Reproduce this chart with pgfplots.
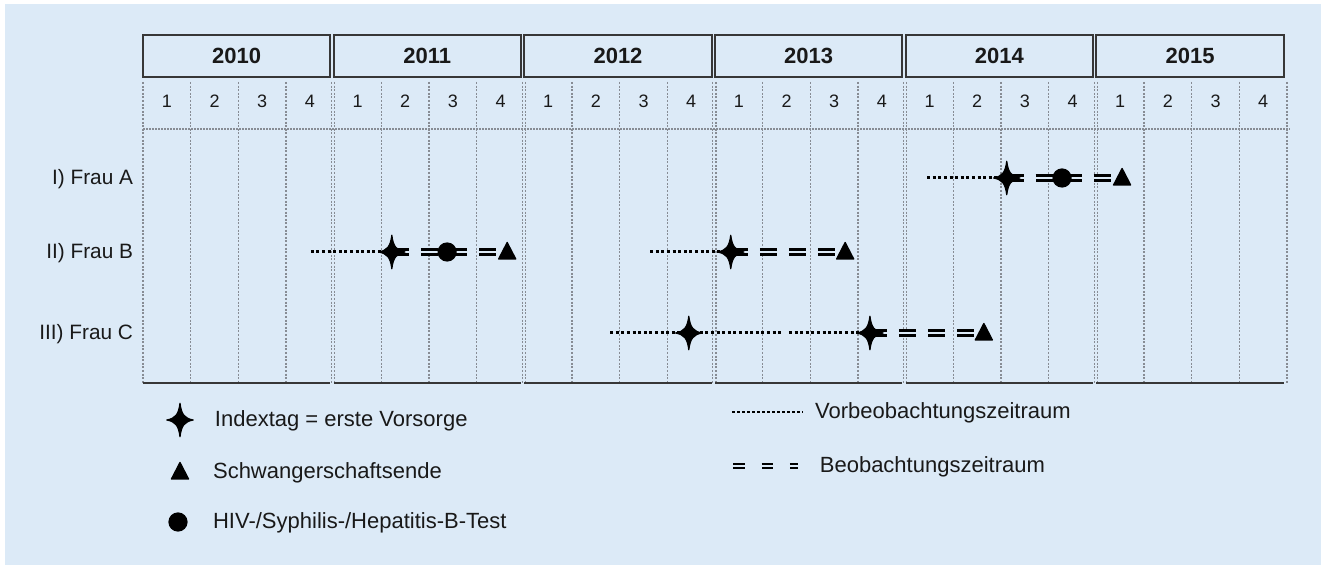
\documentclass[border=0pt]{standalone}
\usepackage{pgfplots}
\pgfplotsset{compat=1.18}
\usepackage{fontspec}
\setmainfont{Liberation Sans}
\definecolor{bg}{RGB}{220,234,247}
\definecolor{gridc}{RGB}{135,140,148}
\definecolor{boxc}{RGB}{55,55,55}
\definecolor{txtc}{RGB}{25,25,25}
\tikzset{lbl/.style={text=txtc, inner sep=0pt, outer sep=0pt}}
\pgfdeclareplotmark{star4}{%
 \pgfpathmoveto{\pgfpoint{0pt}{8.4pt}}%
 \pgfpathcurveto{\pgfpoint{0.7pt}{2.6pt}}{\pgfpoint{2.4pt}{0.8pt}}{\pgfpoint{6.6pt}{0pt}}%
 \pgfpathcurveto{\pgfpoint{2.4pt}{-0.8pt}}{\pgfpoint{0.7pt}{-2.6pt}}{\pgfpoint{0pt}{-8.4pt}}%
 \pgfpathcurveto{\pgfpoint{-0.7pt}{-2.6pt}}{\pgfpoint{-2.4pt}{-0.8pt}}{\pgfpoint{-6.6pt}{0pt}}%
 \pgfpathcurveto{\pgfpoint{-2.4pt}{0.8pt}}{\pgfpoint{-0.7pt}{2.6pt}}{\pgfpoint{0pt}{8.4pt}}%
 \pgfpathclose\pgfusepathqfillstroke}
\pgfdeclareplotmark{circ}{\pgfpathcircle{\pgfpointorigin}{4.5pt}\pgfusepathqfillstroke}
\pgfdeclareplotmark{tri}{%
 \pgfpathmoveto{\pgfpoint{0pt}{4.8pt}}%
 \pgfpathlineto{\pgfpoint{4.3pt}{-3.5pt}}%
 \pgfpathlineto{\pgfpoint{-4.3pt}{-3.5pt}}%
 \pgfpathclose\pgfusepathqfillstroke}
\begin{document}
\begin{tikzpicture}
\begin{axis}[
  scale only axis, width=660.5pt, height=282.5pt,
  xmin=-3.0, xmax=24.713, ymin=0, ymax=565, y dir=reverse,
  hide axis, clip=false,
  pre/.style={black, line width=1.5pt, dash pattern=on 1.5pt off 1.3pt, no markers},
  obs/.style={black, line width=1.3pt, double=bg, double distance=1.1pt, dash pattern=on 8.5pt off 6pt, no markers},
  mk/.style={only marks, mark options={solid, fill=black, draw=black, line width=0.6pt, line join=round}},
]
% background
\fill[white] (axis cs:-3.0,0) rectangle (axis cs:24.713,565);
\fill[bg] (axis cs:-2.895,4) rectangle (axis cs:24.713,565);
% vertical grid lines
\pgfplotsinvokeforeach{0,1,2,3,5,6,7,9,10,11,13,14,15,17,18,19,21,22,23,24}{
  \draw[gridc, line width=0.6pt, dash pattern=on 1pt off 0.8pt] (axis cs:#1,82) -- (axis cs:#1,383);
}
\pgfplotsinvokeforeach{4,8,12,16,20}{
  \draw[gridc, line width=0.6pt, dash pattern=on 1pt off 0.8pt] (axis cs:{#1-0.045},82) -- (axis cs:{#1-0.045},383);
  \draw[gridc, line width=0.6pt, dash pattern=on 1pt off 0.8pt] (axis cs:{#1+0.02},82) -- (axis cs:{#1+0.02},383);
}
% horizontal dotted line under quarter labels
\draw[gridc, line width=0.7pt, dash pattern=on 1pt off 0.5pt] (axis cs:0,129) -- (axis cs:24.07,129);
% year boxes, bottom line, quarter numbers
\pgfplotsinvokeforeach{0,1,2,3,4,5}{
  \draw[boxc, line width=1pt] (axis cs:{4*#1},35) rectangle (axis cs:{4*#1+3.93},77);
  \draw[boxc, line width=1pt] (axis cs:{4*#1},383) -- (axis cs:{4*#1+3.93},383);
  \node[lbl, font=\fontsize{9}{10}\selectfont] at (axis cs:{4*#1+0.5},101) {1};
  \node[lbl, font=\fontsize{9}{10}\selectfont] at (axis cs:{4*#1+1.5},101) {2};
  \node[lbl, font=\fontsize{9}{10}\selectfont] at (axis cs:{4*#1+2.5},101) {3};
  \node[lbl, font=\fontsize{9}{10}\selectfont] at (axis cs:{4*#1+3.5},101) {4};
}
\node[lbl, font=\fontsize{11}{13}\selectfont\bfseries] at (axis cs:1.965,56) {2010};
\node[lbl, font=\fontsize{11}{13}\selectfont\bfseries] at (axis cs:5.965,56) {2011};
\node[lbl, font=\fontsize{11}{13}\selectfont\bfseries] at (axis cs:9.965,56) {2012};
\node[lbl, font=\fontsize{11}{13}\selectfont\bfseries] at (axis cs:13.965,56) {2013};
\node[lbl, font=\fontsize{11}{13}\selectfont\bfseries] at (axis cs:17.965,56) {2014};
\node[lbl, font=\fontsize{11}{13}\selectfont\bfseries] at (axis cs:21.965,56) {2015};
% row labels
\node[lbl, anchor=east, font=\fontsize{10.4}{12}\selectfont] at (axis cs:-0.21,179) {I) Frau A};
\node[lbl, anchor=east, font=\fontsize{10.4}{12}\selectfont] at (axis cs:-0.21,253) {II) Frau B};
\node[lbl, anchor=east, font=\fontsize{10.4}{12}\selectfont] at (axis cs:-0.21,334) {III) Frau C};
% pre-observation periods (dotted)
\addplot[pre] coordinates {(16.45,178) (18.12,178)};
\addplot[pre] coordinates {(3.52,252) (5.22,252)};
\addplot[pre] coordinates {(10.64,252) (12.33,252)};
\addplot[pre] coordinates {(9.80,333) (13.38,333)};
\addplot[pre] coordinates {(13.55,333) (15.25,333)};
% observation periods (double dashed)
\addplot[obs] coordinates {(18.12,178) (20.54,178)};
\addplot[obs] coordinates {(5.22,252) (7.64,252)};
\addplot[obs] coordinates {(12.33,252) (14.73,252)};
\addplot[obs] coordinates {(15.25,333) (17.64,333)};
% legend line samples
\addplot[black, line width=1.3pt, dash pattern=on 1.3pt off 1.2pt] coordinates {(12.36,412) (13.85,412)};
\addplot[black, line width=1.1pt, double=bg, double distance=1.0pt, dash pattern=on 5.8pt off 8.4pt] coordinates {(12.38,466) (13.74,466)};
% markers
\addplot[mk, mark=star4] coordinates {(18.12,178) (5.22,252) (12.33,252) (11.45,333) (15.25,333) (0.776,420)};
\addplot[mk, mark=circ] coordinates {(19.28,178) (6.38,252) (0.734,522)};
\addplot[mk, mark=tri] coordinates {(20.54,178) (7.64,252) (14.73,252) (17.64,333) (0.776,472)};
% legend texts
\node[lbl, anchor=west, font=\fontsize{11}{13}\selectfont] at (axis cs:1.51,421) {Indextag = erste Vorsorge};
\node[lbl, anchor=west, font=\fontsize{11}{13}\selectfont] at (axis cs:1.47,473) {Schwangerschaftsende};
\node[lbl, anchor=west, font=\fontsize{11}{13}\selectfont] at (axis cs:1.47,523) {HIV-/Syphilis-/Hepatitis-B-Test};
\node[lbl, anchor=west, font=\fontsize{11}{13}\selectfont] at (axis cs:14.10,413) {Vorbeobachtungszeitraum};
\node[lbl, anchor=west, font=\fontsize{11}{13}\selectfont] at (axis cs:14.20,467) {Beobachtungszeitraum};
\end{axis}
\end{tikzpicture}
\end{document}
